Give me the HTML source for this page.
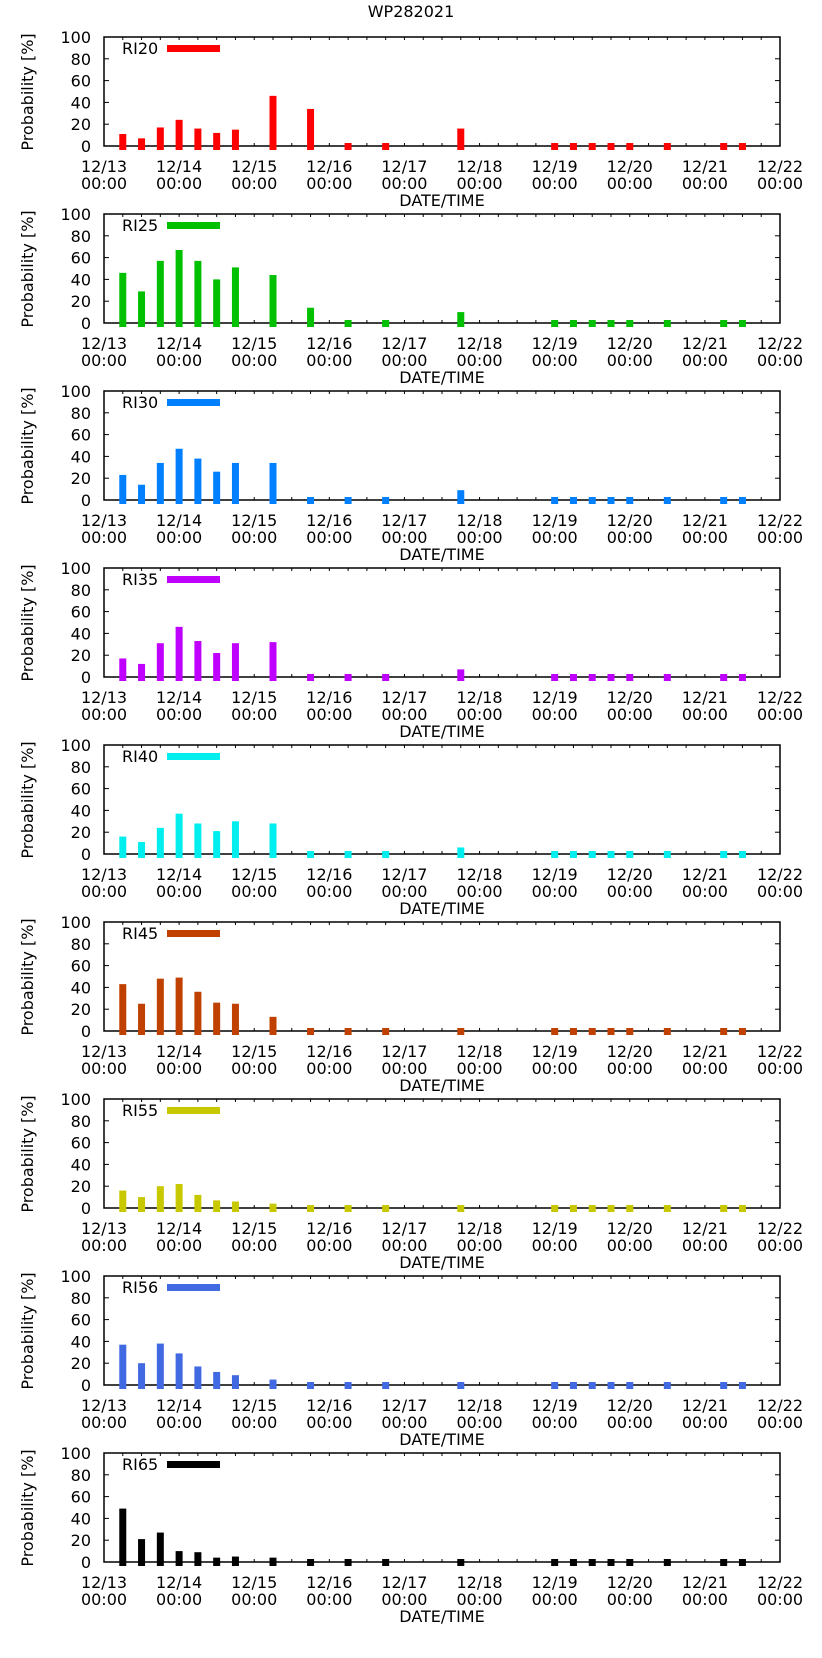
<!DOCTYPE html>
<html><head><meta charset="utf-8"><style>
body{margin:0;background:#fff;}
svg text{font-family:"DejaVu Sans","Liberation Sans",sans-serif;font-size:16px;fill:#000;}
</style></head><body>
<svg id="c" width="822" height="1653" xmlns="http://www.w3.org/2000/svg">
<text x="411" y="17" text-anchor="middle">WP282021</text>
</svg>
<script>
const steps = [1,2,3,4,5,6,7,9,11,13,15,19,24,25,26,27,28,30,33,34];
const xTickLabels = ["12/13","12/14","12/15","12/16","12/17","12/18","12/19","12/20","12/21","12/22"];
const yTickLabels = [0,20,40,60,80,100];
const seriesNames = ["RI20","RI25","RI30","RI35","RI40","RI45","RI55","RI56","RI65"];
const seriesColors = ["#ff0000","#00c000","#0080ff","#c000ff","#00eeee","#c04000","#c8c800","#4169e1","#000000"];
const ri20 = [11,7,17,24,16,12,15,46,34,0,0,16,0,0,0,0,0,0,0,0];
const ri25 = [46,29,57,67,57,40,51,44,14,0,0,10,0,0,0,0,0,0,0,0];
const ri30 = [23,14,34,47,38,26,34,34,0,0,0,9,0,0,0,0,0,0,0,0];
const ri35 = [17,12,31,46,33,22,31,32,0,0,0,7,0,0,0,0,0,0,0,0];
const ri40 = [16,11,24,37,28,21,30,28,0,0,0,6,0,0,0,0,0,0,0,0];
const ri45 = [43,25,48,49,36,26,25,13,0,0,0,0,0,0,0,0,0,0,0,0];
const ri55 = [16,10,20,22,12,7,6,4,0,0,0,0,0,0,0,0,0,0,0,0];
const ri56 = [37,20,38,29,17,12,9,5,0,0,0,0,0,0,0,0,0,0,0,0];
const ri65 = [49,21,27,10,9,4,5,4,0,0,0,0,0,0,0,0,0,0,0,0];
const allSeries = [ri20,ri25,ri30,ri35,ri40,ri45,ri55,ri56,ri65];

const svg = document.getElementById('c');
const NS = 'http://www.w3.org/2000/svg';
const X0 = 104, X1 = 780, STEP6 = (X1 - X0) / 36;
function xs(step){ return X0 + step * STEP6; }
function mk(tag, attrs, parent){ const e = document.createElementNS(NS, tag); for (const k in attrs) e.setAttribute(k, attrs[k]); (parent||svg).appendChild(e); return e; }

seriesNames.forEach((name, p) => {
  const top = 37 + p * 177, base = top + 109;
  const ys = v => base - v * 109 / 100;
  const g = mk('g', {});
  
  
  const frame = mk('rect', {x:X0, y:top, width:X1-X0, height:109, fill:'none', stroke:'#000', 'stroke-width':1.5}, g);
  
  
  for (let s = 1; s < 36; s++) {
    const len = 3;
    mk('line', {x1:xs(s), x2:xs(s), y1:base, y2:base-len, stroke:'#000'}, g);
    mk('line', {x1:xs(s), x2:xs(s), y1:top, y2:top+len, stroke:'#000'}, g);
  }
  yTickLabels.forEach(v => {
    mk('line', {x1:X0, x2:X0+5, y1:ys(v), y2:ys(v), stroke:'#000'}, g);
    mk('line', {x1:X1, x2:X1-5, y1:ys(v), y2:ys(v), stroke:'#000'}, g);
    const t = mk('text', {x:91, y:ys(v)+6, 'text-anchor':'end'}, g);
    t.textContent = v;
    
    
  });
  xTickLabels.forEach((lab, i) => {
    const x = xs(i * 4);
    const t1 = mk('text', {x:x, y:base+26, 'text-anchor':'middle'}, g);
    t1.textContent = lab;
    
    
    const t2 = mk('text', {x:x, y:base+43, 'text-anchor':'middle'}, g);
    t2.textContent = '00:00';
    
    
  });
  const xt = mk('text', {x:442, y:base+60, 'text-anchor':'middle'}, g);
  xt.textContent = 'DATE/TIME';
  
  
  const yt = mk('text', {x:0, y:0, 'text-anchor':'middle', transform:'translate(33,' + (top+55) + ') rotate(-90)'}, g);
  yt.textContent = 'Probability [%]';
  
  
  const lt = mk('text', {x:122, y:top+17}, g);
  lt.textContent = name;
  
  
  const ll = mk('rect', {x:167, y:top+8, width:53, height:7, fill:seriesColors[p]}, g);
  
  
  allSeries[p].forEach((v, i) => {
    const x = xs(steps[i]);
    const yTop = Math.min(ys(v), base - 3);
    const b = mk('rect', {x:x-3.5, y:yTop, width:7, height:base+4-yTop, fill:seriesColors[p]}, g);
    
    
  });
});
</script>
</body></html>
